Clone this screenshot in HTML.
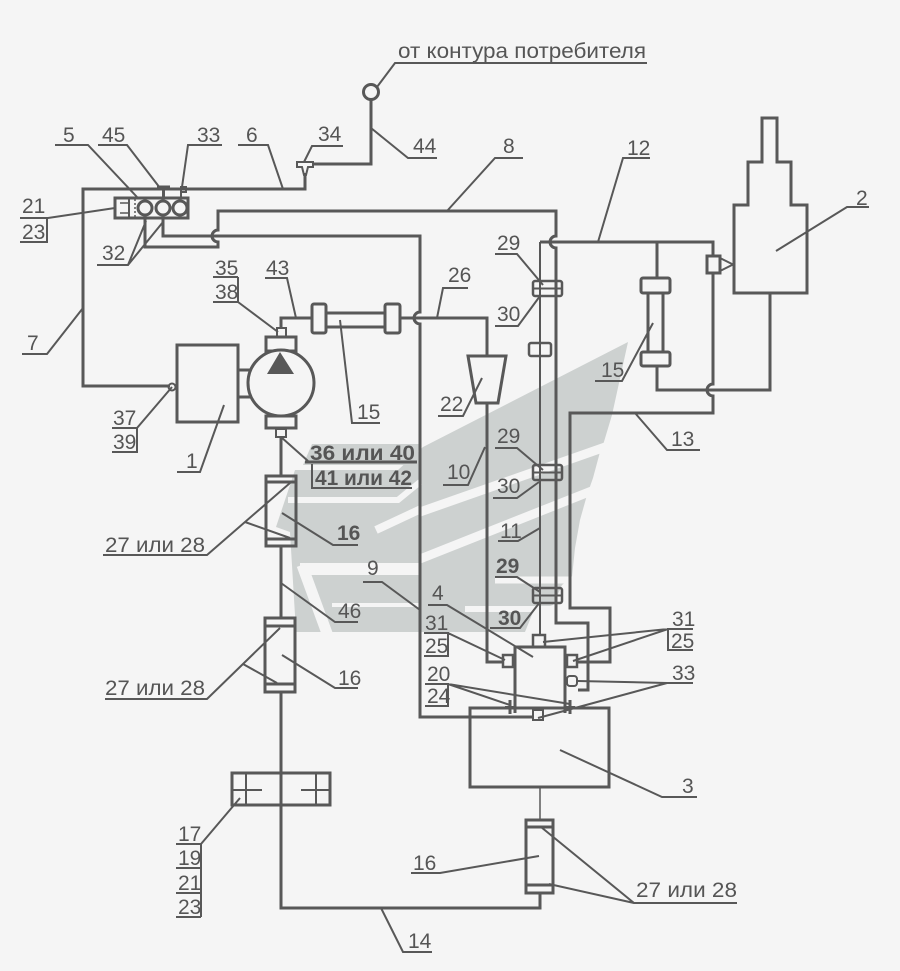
<!DOCTYPE html>
<html><head><meta charset="utf-8">
<style>
html,body{margin:0;padding:0;background:#f5f5f5;}
svg{display:block}
text{font-family:"Liberation Sans","DejaVu Sans",sans-serif;font-size:21px;fill:#555;}
.b{font-weight:bold}
</style></head><body>
<svg width="900" height="971" viewBox="0 0 900 971" xmlns="http://www.w3.org/2000/svg">
<rect width="900" height="971" fill="#f5f5f5"/>

<!-- watermark -->
<g fill="#cdd1d0">
<polygon points="628,342 423,447 398,470 295,470 276,527 290,532 296,632 525,632 533,612 553,605 562,585 572,577 575,548 580,520 587,495 593,478 600,452 603,445 612,415"/>
<polygon points="312,444 420,444 415,465 303,465"/>
</g>
<g stroke="#f5f5f5" fill="none">
<polyline points="288,500 398,500 420,482" stroke-width="6"/>
<line x1="420" y1="512" x2="608" y2="446" stroke-width="9"/>
<line x1="376" y1="530" x2="421" y2="509" stroke-width="8"/>
<line x1="420" y1="559" x2="594" y2="490" stroke-width="9"/>
<line x1="300" y1="569" x2="420" y2="569" stroke-width="12"/>
<line x1="302" y1="565" x2="328" y2="636" stroke-width="11"/>
<line x1="332" y1="605" x2="420" y2="605" stroke-width="4"/>
<line x1="495" y1="580" x2="578" y2="580" stroke-width="7"/>
<line x1="465" y1="609" x2="560" y2="609" stroke-width="6"/>
</g>

<!-- pipes and components -->
<g stroke="#585858" stroke-width="3" fill="none">
<path d="M170,386 H83 V189 H305 V173"/>
<path d="M312,164 H371 V100"/>
<circle cx="371" cy="92" r="7.5"/>
<polygon points="297,162 313,162 313,167 308,167 306,175 304,175 302,167 297,167" stroke-width="2"/>

<rect x="115" y="198" width="73" height="20"/>
<path d="M129,199 V217" stroke-width="2"/>
<path d="M120,203 H128 M120,213 H128" stroke-width="1.5"/>
<path d="M135,199 V217" stroke-width="1.5" stroke-dasharray="2,2"/>
<circle cx="145" cy="208" r="7"/>
<circle cx="163" cy="208" r="7"/>
<circle cx="180" cy="208" r="7"/>
<path d="M157,187 H170 M163.5,187 V198"/>
<path d="M181,198 V187 H186 V192 H181" stroke-width="2"/>

<path d="M145,218 V247 H218 V242 A6,6 0 0 1 218,230 V211 H556 V236 A6,6 0 0 0 556,248 V623 H588 V690 H578"/>
<path d="M163,218 V236 H420 V312 A6,6 0 0 0 420,324 V717 H533"/>

<path d="M281,328 V318 H312 M400,318 H487 V356"/>
<rect x="312" y="304" width="14" height="29" rx="2"/>
<rect x="385" y="304" width="15" height="29" rx="2"/>
<rect x="326" y="313" width="59" height="14"/>

<polygon points="468,356 506,356 498,403 476,403"/>
<path d="M487,403 V662 H503"/>
<path d="M540,242 V635" stroke-width="2"/>
<path d="M540,242 H713 V256"/>
<path d="M657,242 V278 M657,366 V390 H770 V293"/>
<path d="M713,273 V384 A6,6 0 0 0 713,396 V413 H570 V608 H610 V662 H577"/>
<rect x="707" y="256" width="13" height="17"/>
<path d="M720,258 L733,264.5 L720,271" stroke-width="2"/>
<rect x="641" y="278" width="29" height="15" rx="2"/>
<rect x="648" y="293" width="15" height="59"/>
<rect x="641" y="352" width="29" height="14" rx="2"/>

<path d="M762,162 V118 H777 V162 H791 V205 H807 V293 H734 V205 H748 V162 Z"/>

<rect x="177" y="345" width="61" height="77"/>
<circle cx="172" cy="387" r="3.5" stroke-width="2"/>
<path d="M238,370 H250 M238,397 H250"/>
<rect x="266" y="337" width="30" height="14"/>
<rect x="266" y="416" width="30" height="12"/>
<circle cx="281" cy="383" r="33" fill="#f5f5f5"/>
<rect x="277" y="328" width="9" height="9" stroke-width="2"/>
<rect x="276" y="429" width="10" height="8" stroke-width="2"/>

<path d="M281,437 V476 M281,546 V618 M281,692 V908 H540 V893"/>
<rect x="266" y="476" width="30" height="70"/>
<path d="M266,482 H296 M266,539 H296"/>
<rect x="265" y="618" width="30" height="74"/>
<path d="M265,626 H295 M265,684 H295"/>
<rect x="232" y="773" width="98" height="32"/>
<path d="M246,773 V805 M316,773 V805 M233,790 H262 M301,790 H329" stroke-width="2"/>
<rect x="526" y="820" width="27" height="73"/>
<path d="M526,827 H553 M526,885 H553"/>
<path d="M540,787 V820" stroke-width="1.5"/>

<rect x="470" y="708" width="139" height="79"/>
<path d="M515,713 V647 H565 V713"/>
<rect x="533" y="635" width="12" height="12" stroke-width="2.5"/>
<rect x="503" y="655" width="10" height="12" stroke-width="2.5"/>
<rect x="567" y="655" width="10" height="12" stroke-width="2.5"/>
<rect x="567" y="676" width="10" height="10" rx="3" stroke-width="2"/>
<rect x="533" y="710" width="10" height="10" stroke-width="2"/>
<path d="M510,700 V714 M570,700 V714"/>
<path d="M505,707 H515 M565,707 H575" stroke-width="2"/>

<rect x="533" y="281" width="29" height="15" rx="2" stroke-width="2.5"/>
<path d="M533,288.5 H562" stroke-width="2"/>
<rect x="533" y="465" width="29" height="15" rx="2" stroke-width="2.5"/>
<path d="M533,472.5 H562" stroke-width="2"/>
<rect x="533" y="588" width="29" height="15" rx="2" stroke-width="2.5"/>
<path d="M533,595.5 H562" stroke-width="2"/>
<rect x="529" y="343" width="22" height="13" rx="2" stroke-width="2.5"/>
</g>
<polygon points="280,352 267,374 294,374" fill="#585858"/>

<!-- leaders and underlines -->
<g stroke="#585858" stroke-width="2" fill="none">
<path d="M55,145 H88 L137,197"/>
<path d="M98,145 H127 L160,188"/>
<path d="M222,145 H188 L182,187"/>
<path d="M238,145 H268 L283,189"/>
<path d="M343,146 H312 L304,162"/>
<path d="M437,158 H408 L371,128"/>
<path d="M523,158 H495 L447,211"/>
<path d="M650,158 H623 L598,242"/>
<path d="M869,207 H847 L776,251"/>
<path d="M647,63 H395 L377,87"/>
<path d="M20,218 H48 L115,208 M20,242 H47 V218"/>
<path d="M97,265 H128 L146,221 M128,265 L163,222"/>
<path d="M22,354 H47 L83,308"/>
<path d="M213,277 H238 M213,302 H238 V277 M238,302 L278,332"/>
<path d="M265,278 H287 L296,318"/>
<path d="M468,288 H443 L437,318"/>
<path d="M495,254 H517 L543,285"/>
<path d="M495,326 H518 L540,296"/>
<path d="M595,381 H622 L653,323"/>
<path d="M380,423 H352 L340,320"/>
<path d="M438,416 H463 L482,378"/>
<path d="M700,450 H667 L635,413"/>
<path d="M112,428 H137 L172,387 M112,452 H137 V428"/>
<path d="M177,472 H200 L224,405"/>
<path d="M305,462 H417" stroke-width="3"/>
<path d="M312,464 V488 H412"/>
<path d="M281,437 L308,461"/>
<path d="M443,485 H468 L485,447"/>
<path d="M495,448 H517 L543,470"/>
<path d="M493,498 H517 L539,482"/>
<path d="M498,541 H518 L540,528"/>
<path d="M358,545 H333 L282,513"/>
<path d="M103,555 H207 L290,483 M245,522 L290,538"/>
<path d="M363,582 H382 L420,610"/>
<path d="M495,577 H517 L540,592"/>
<path d="M428,605 H447 L533,657"/>
<path d="M358,622 H335 L281,583"/>
<path d="M490,628 H520 L540,602"/>
<path d="M424,633 H448 V656 H424 M448,633 L505,660"/>
<path d="M693,629 H668 V650 H693 M668,629 L543,642 M668,629 L573,661"/>
<path d="M425,684 H448 V706 H425 M448,684 L510,705 M448,684 L570,704"/>
<path d="M693,683 H667 L578,681 M667,683 L538,718"/>
<path d="M358,688 H335 L282,655"/>
<path d="M105,699 H207 L280,628 M243,664 L277,683"/>
<path d="M697,797 H662 L560,750"/>
<path d="M176,844 H201 M176,868 H201 M176,893 H201 M176,917 H201 M201,844 V917 M201,844 L240,798"/>
<path d="M432,952 H403 L381,908"/>
<path d="M411,873 H440 L539,856"/>
<path d="M737,903 H634 L541,827 M634,903 L549,884"/>
</g>

<!-- labels -->
<text x="398" y="58" font-size="21" textLength="248" lengthAdjust="spacingAndGlyphs">от контура потребителя</text>
<text x="63" y="142">5</text>
<text x="102" y="142">45</text>
<text x="197" y="142">33</text>
<text x="246" y="142">6</text>
<text x="318" y="141">34</text>
<text x="413" y="153">44</text>
<text x="503" y="153">8</text>
<text x="627" y="155">12</text>
<text x="856" y="205">2</text>
<text x="22" y="213">21</text>
<text x="22" y="239">23</text>
<text x="102" y="260">32</text>
<text x="27" y="350">7</text>
<text x="215" y="275">35</text>
<text x="215" y="299">38</text>
<text x="266" y="275">43</text>
<text x="448" y="282">26</text>
<text x="497" y="250">29</text>
<text x="497" y="321">30</text>
<text x="601" y="377">15</text>
<text x="357" y="419">15</text>
<text x="440" y="411">22</text>
<text x="671" y="446">13</text>
<text x="113" y="425">37</text>
<text x="113" y="449">39</text>
<text x="186" y="468">1</text>
<text x="310" y="460" class="b" textLength="105" lengthAdjust="spacingAndGlyphs">36 или 40</text>
<text x="315" y="485" class="b" textLength="97" lengthAdjust="spacingAndGlyphs">41 или 42</text>
<text x="447" y="479">10</text>
<text x="497" y="443">29</text>
<text x="497" y="493">30</text>
<text x="500" y="538">11</text>
<text x="337" y="540" class="b">16</text>
<text x="105" y="552" textLength="100" lengthAdjust="spacingAndGlyphs">27 или 28</text>
<text x="367" y="575">9</text>
<text x="496" y="573" class="b">29</text>
<text x="432" y="600">4</text>
<text x="338" y="618">46</text>
<text x="498" y="625" class="b">30</text>
<text x="425" y="630">31</text>
<text x="425" y="653">25</text>
<text x="672" y="626">31</text>
<text x="671" y="648">25</text>
<text x="427" y="681">20</text>
<text x="427" y="703">24</text>
<text x="672" y="680">33</text>
<text x="338" y="685">16</text>
<text x="105" y="695" textLength="100" lengthAdjust="spacingAndGlyphs">27 или 28</text>
<text x="682" y="793">3</text>
<text x="178" y="841">17</text>
<text x="178" y="865">19</text>
<text x="178" y="890">21</text>
<text x="178" y="914">23</text>
<text x="408" y="948">14</text>
<text x="413" y="870">16</text>
<text x="636" y="897" textLength="101" lengthAdjust="spacingAndGlyphs">27 или 28</text>
</svg>
</body></html>
